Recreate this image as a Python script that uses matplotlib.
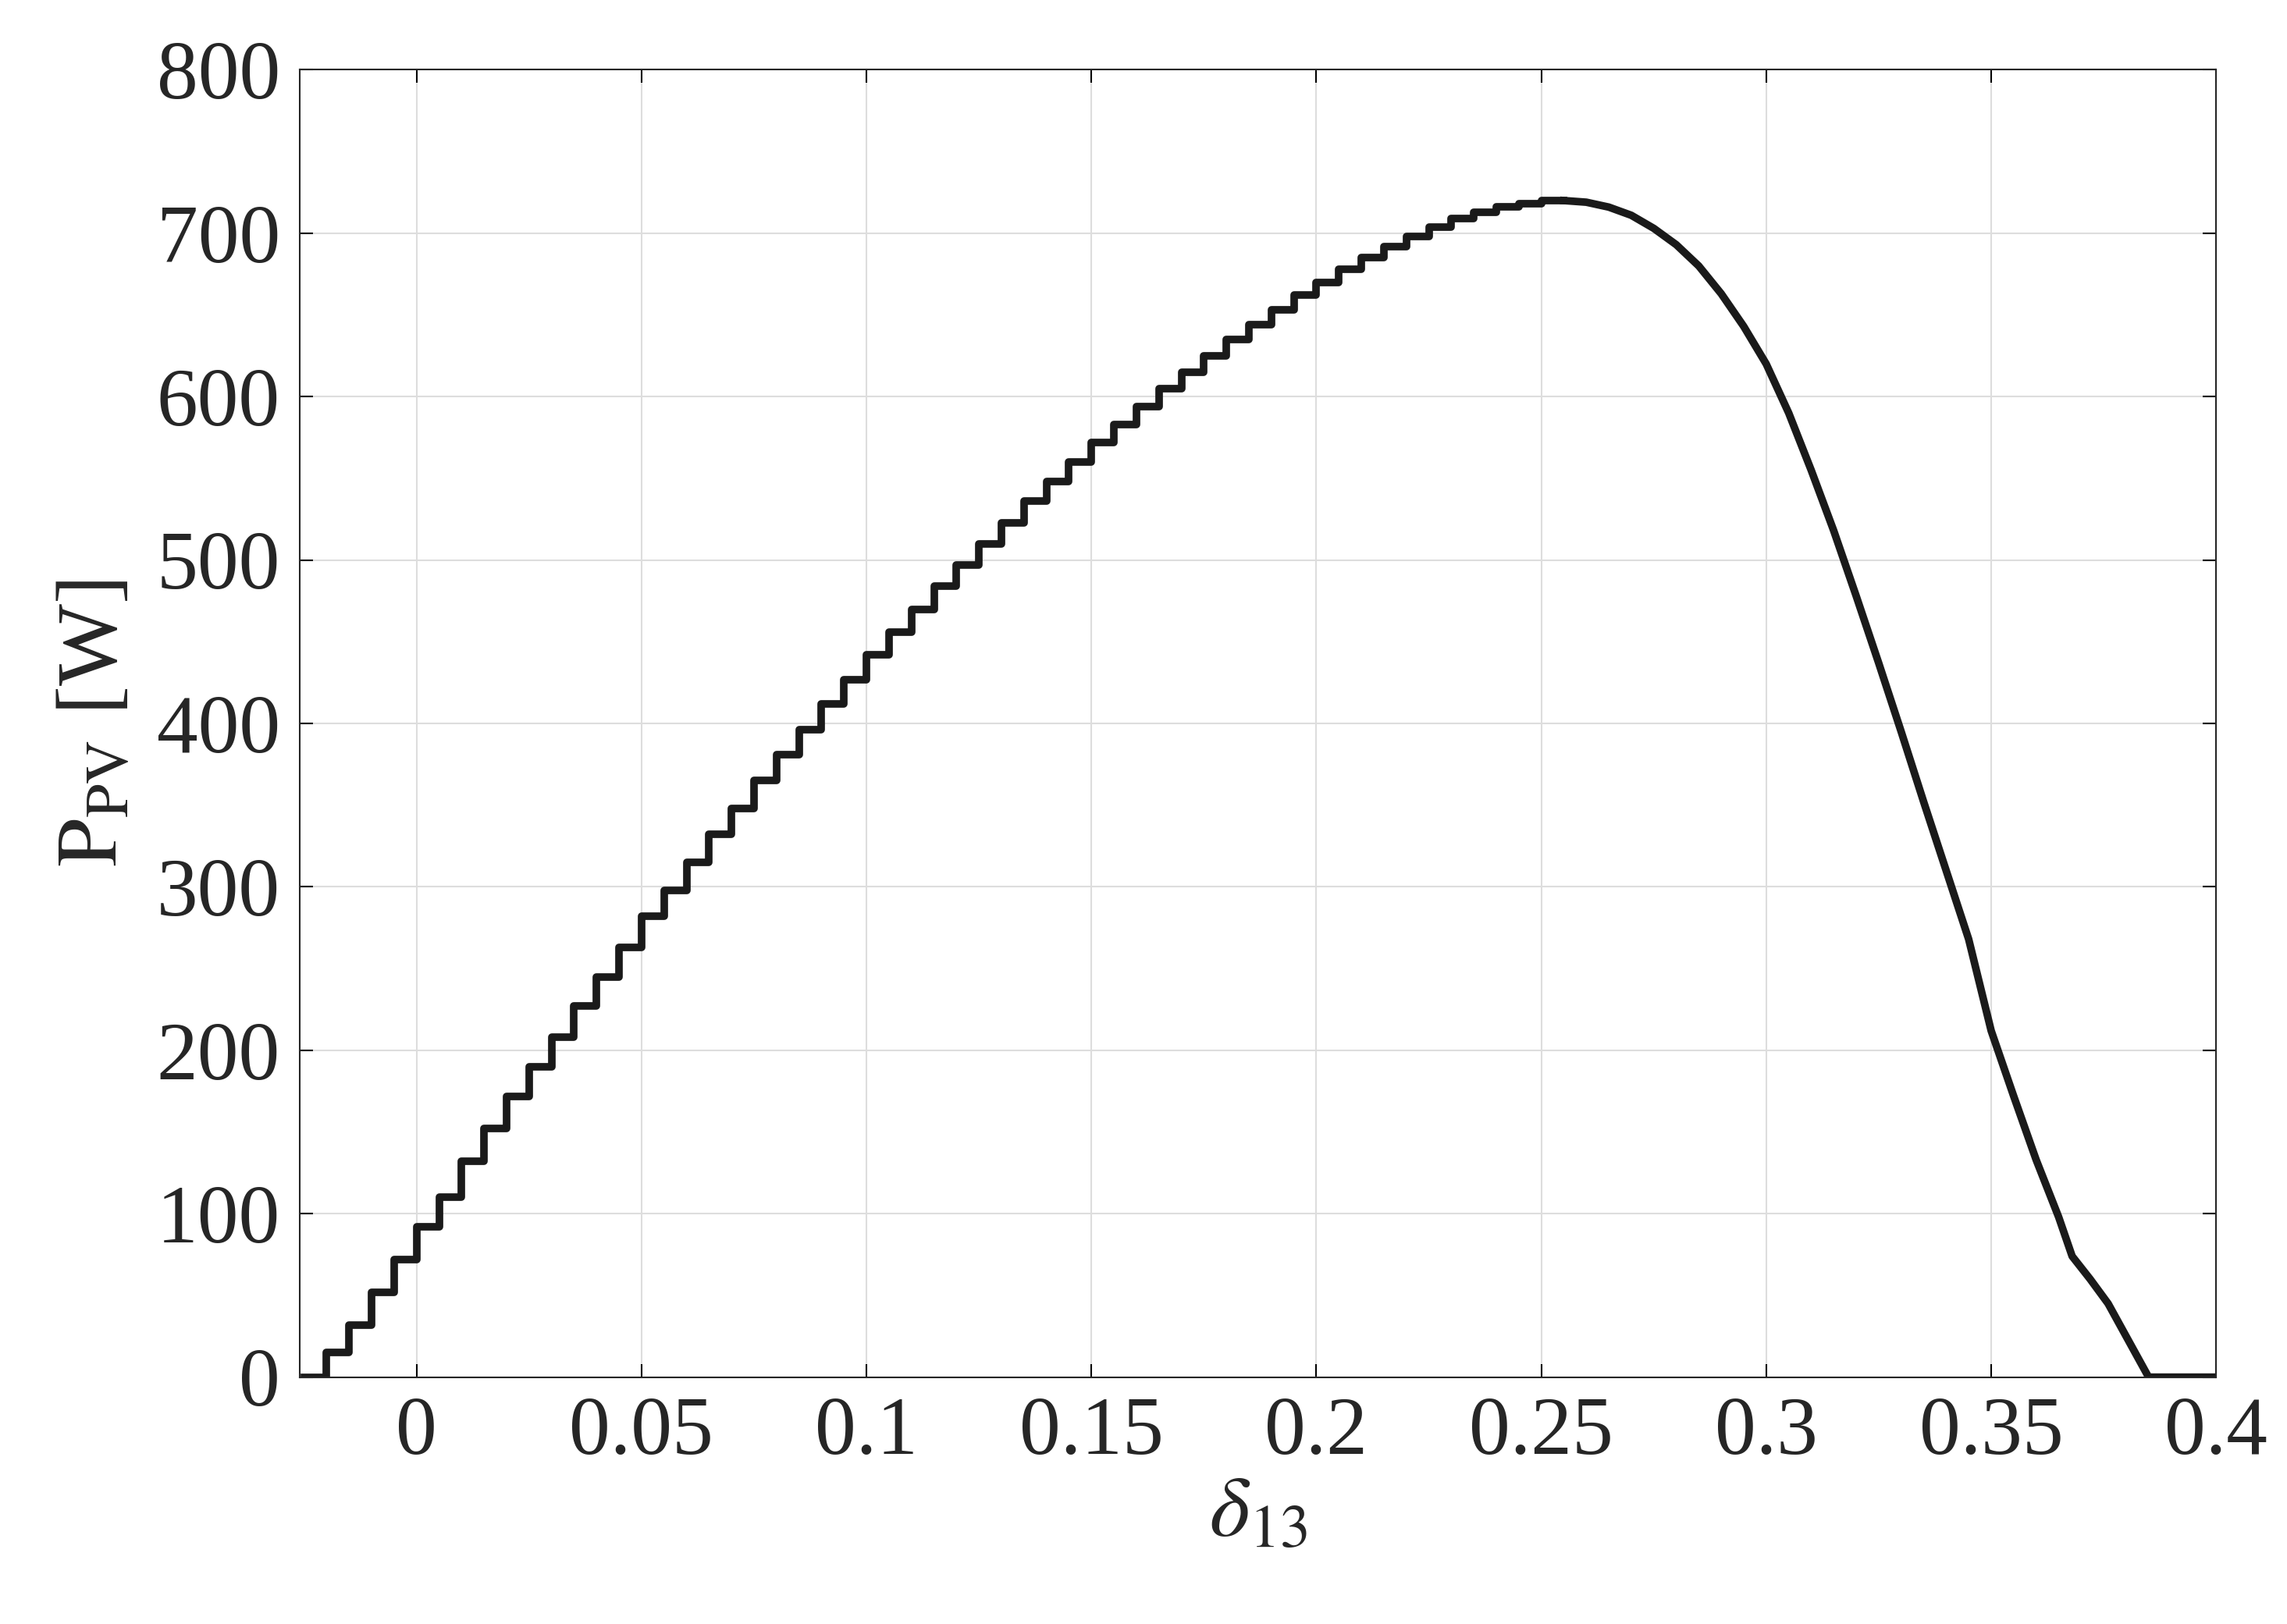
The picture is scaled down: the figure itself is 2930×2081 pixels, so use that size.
import numpy as np
import matplotlib.pyplot as plt

plt.rcParams['font.family'] = ['Liberation Serif', 'DejaVu Serif']
plt.rcParams['mathtext.fontset'] = 'stix'

# rising part (stepped)
delta_rise = [-0.025, -0.02, -0.015, -0.01, -0.005, 0.0, 0.005, 0.01, 0.015, 0.02,
              0.025, 0.03, 0.035, 0.04, 0.045, 0.05, 0.055, 0.06, 0.065, 0.07,
              0.075, 0.08, 0.085, 0.09, 0.095, 0.1, 0.105, 0.11, 0.115, 0.12,
              0.125, 0.13, 0.135, 0.14, 0.145, 0.15, 0.155, 0.16, 0.165, 0.17,
              0.175, 0.18, 0.185, 0.19, 0.195, 0.2, 0.205, 0.21, 0.215, 0.22,
              0.225, 0.23, 0.235, 0.24, 0.245, 0.25, 0.255]
p_rise = [0, 15, 32, 52, 72, 92, 110, 132, 152, 172,
          190, 208, 227, 245, 263, 282, 298, 315, 332, 348,
          365, 381, 396, 412, 427, 442, 456, 470, 484, 497,
          510, 523, 536, 548, 560, 572, 583, 594, 605, 615,
          625, 635, 644, 653, 662, 670, 678, 685, 692, 698,
          704, 709, 713, 716, 718, 720, 720]

# falling part (smooth)
delta_fall = [0.255, 0.26, 0.265, 0.27, 0.275, 0.28, 0.285, 0.29, 0.295, 0.3,
              0.305, 0.31, 0.315, 0.32, 0.325, 0.33, 0.335, 0.34, 0.345, 0.35,
              0.355, 0.36, 0.365, 0.368, 0.372, 0.376, 0.385, 0.4]
p_fall = [720, 719, 716, 711, 703, 693, 680, 663, 643, 620,
          590, 555, 518, 478, 437, 395, 352, 310, 268, 212,
          172, 133, 98, 74, 60, 45, 0, 0]

fig = plt.figure(figsize=(29.3, 20.81), dpi=100)
ax = fig.add_axes([0.131, 0.152, 0.838, 0.805])

ax.plot(delta_rise, p_rise, drawstyle='steps-post', color='#1a1a1a', linewidth=7)
ax.plot(delta_fall, p_fall, color='#1a1a1a', linewidth=7)

ax.set_xlim(-0.026, 0.4)
ax.set_ylim(0, 800)
ax.set_xticks([0, 0.05, 0.1, 0.15, 0.2, 0.25, 0.3, 0.35, 0.4])
ax.set_xticklabels(['0', '0.05', '0.1', '0.15', '0.2', '0.25', '0.3', '0.35', '0.4'])
ax.set_yticks(range(0, 801, 100))
ax.grid(True, color='#dddddd', linewidth=1.5)
ax.tick_params(labelsize=76, direction='in', length=12, width=1.5, pad=18,
               top=True, right=True, labelcolor='#262626')
for s in ax.spines.values():
    s.set_linewidth(1.5)
    s.set_color('#262626')

ax.set_xlabel(r'$\delta_{13}$', fontsize=80, color='#262626')
ax.set_ylabel(r'$\mathrm{P_{PV}}$ [W]', fontsize=80, color='#262626', labelpad=20)

fig.savefig('out.png', dpi=100)
